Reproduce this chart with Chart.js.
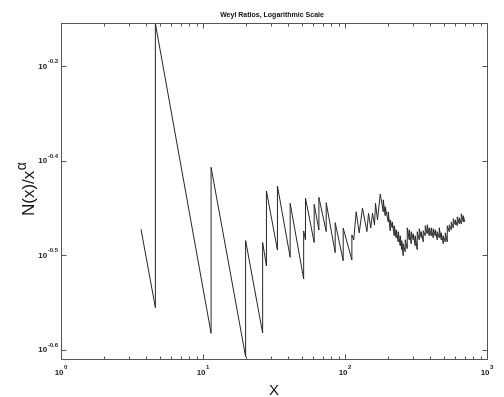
<!DOCTYPE html>
<html>
<head>
<meta charset="utf-8">
<script src="https://cdn.jsdelivr.net/npm/chart.js@4.4.1/dist/chart.umd.min.js"></script>
<style>
  html, body { margin: 0; padding: 0; background: #fff; }
</style>
</head>
<body>
<canvas id="weylChart" width="504" height="397"></canvas>
<script>
// values (x = eigenvalue position, y = N(x)/x^alpha)
const xValues = [3.66, 4.62, 4.62, 11.40, 11.40, 19.96, 19.96, 26.30, 26.30, 27.98, 27.98,
  33.44, 33.44, 41.10, 41.10, 51.16, 51.16, 52.68, 52.68, 60.67, 60.67, 65.49, 65.49,
  73.74, 73.74, 85.29, 85.29, 97.12, 97.12, 111.8, 111.8, 115.2, 119.9, 125.9, 132.8,
  142.7, 146.4, 151.8, 156.2, 161.4, 164.0, 169.4, 177.1,
  185.9, 185.9, 192.0, 192.0, 201.6, 201.6, 208.2, 208.2, 215.1, 215.1, 222.2, 222.2,
  229.5, 229.5, 237.1, 237.1, 244.9, 244.9, 250.9, 250.9, 257.1, 257.1, 265.6, 265.6,
  274.4, 274.4, 283.4, 283.4, 292.7, 292.7, 302.4, 302.4, 312.4, 312.4, 322.7, 322.7,
  333.3, 333.3, 344.4, 344.4, 355.7, 355.7, 367.4, 367.4, 379.6, 379.6, 392.1, 392.1,
  405.0, 405.0, 418.4, 418.4, 432.2, 432.2, 446.5, 446.5, 461.2, 461.2, 476.4, 476.4,
  492.1, 492.1, 508.3, 508.3, 525.1, 525.1, 542.4, 542.4, 560.3, 560.3, 578.8, 578.8,
  597.9, 597.9, 617.6, 617.6, 638.0, 638.0, 659.0, 659.0, 680.8, 680.8, 697.6];
const yValues = [0.3369, 0.2784, 0.5557, 0.2616, 0.3917, 0.2471, 0.3278, 0.2618, 0.3262, 0.3081, 0.3698,
  0.3203, 0.3743, 0.3147, 0.3589, 0.2985, 0.3355, 0.3283, 0.3635, 0.3262, 0.3580, 0.3363, 0.3641,
  0.3350, 0.3594, 0.3183, 0.3423, 0.3121, 0.3379, 0.3126, 0.3323, 0.3283, 0.3516, 0.3339, 0.3546,
  0.3350, 0.3502, 0.3379, 0.3502, 0.3404, 0.3589, 0.3446, 0.3671,
  0.3515, 0.3619, 0.3482, 0.3558, 0.3430, 0.3515, 0.3357, 0.3447, 0.3381, 0.3430, 0.3316, 0.3398,
  0.3300, 0.3365, 0.3268, 0.3349, 0.3237, 0.3316, 0.3206, 0.3276, 0.3159, 0.3253, 0.3190, 0.3284,
  0.3214, 0.3381, 0.3284, 0.3365, 0.3253, 0.3349, 0.3284, 0.3332, 0.3237, 0.3316, 0.3206, 0.3349,
  0.3284, 0.3373, 0.3300, 0.3349, 0.3268, 0.3357, 0.3316, 0.3398, 0.3332, 0.3406, 0.3316, 0.3381,
  0.3316, 0.3381, 0.3300, 0.3373, 0.3316, 0.3365, 0.3284, 0.3349, 0.3300, 0.3381, 0.3284, 0.3340,
  0.3253, 0.3316, 0.3268, 0.3340, 0.3268, 0.3398, 0.3349, 0.3406, 0.3365, 0.3430, 0.3381, 0.3456,
  0.3406, 0.3447, 0.3398, 0.3473, 0.3414, 0.3465, 0.3414, 0.3498, 0.3430, 0.3482, 0.3430];

// axis ticks
const xDecades = [1, 10, 100, 1000];
const xDecadeLabels = ['0', '1', '2', '3'];
const xMinorTicks = [2, 3, 4, 5, 6, 7, 8, 9, 20, 30, 40, 50, 60, 70, 80, 90,
  200, 300, 400, 500, 600, 700, 800, 900];
const yExponents = [-0.3, -0.4, -0.5, -0.6];
const yExponentLabels = ['-0.3', '-0.4', '-0.5', '-0.6'];
const yMin = 0.2457, yMax = 0.5565;

const FONT = "'Liberation Sans', Arial, sans-serif";

// matlab style box with inward ticks and 10^n labels
const matlabFrame = {
  id: 'matlabFrame',
  afterDatasetsDraw(chart) {
    const { ctx, chartArea: a, scales: { x, y } } = chart;
    const seg = (x1, y1, x2, y2) => {
      ctx.beginPath(); ctx.moveTo(x1, y1); ctx.lineTo(x2, y2); ctx.stroke();
    };
    ctx.save();
    ctx.strokeStyle = '#555';
    ctx.lineWidth = 1;
    const L = Math.round(a.left) + 0.5, R = Math.round(a.right) + 0.5;
    const T = Math.round(a.top) + 0.5, B = Math.round(a.bottom) + 0.5;
    ctx.strokeRect(L, T, R - L, B - T);

    // x ticks top and bottom
    xMinorTicks.forEach(v => {
      const px = Math.round(x.getPixelForValue(v)) + 0.5;
      seg(px, B, px, B - 3); seg(px, T, px, T + 3);
    });
    xDecades.forEach(v => {
      const px = Math.round(x.getPixelForValue(v)) + 0.5;
      seg(px, B, px, B - 5); seg(px, T, px, T + 5);
    });
    // y ticks left and right
    yExponents.forEach(e => {
      const py = Math.round(y.getPixelForValue(Math.pow(10, e))) + 0.5;
      seg(L, py, L + 5, py); seg(R, py, R - 5, py);
    });

    ctx.fillStyle = '#1a1a1a';
    ctx.textBaseline = 'alphabetic';
    const baseFont = 'bold 8px ' + FONT;
    const supFont = 'bold 6px ' + FONT;

    // y tick labels
    yExponents.forEach((e, i) => {
      const py = y.getPixelForValue(Math.pow(10, e));
      ctx.font = supFont;
      ctx.textAlign = 'right';
      const supRight = a.left - 3;
      ctx.fillText(yExponentLabels[i], supRight, py - 3);
      const supW = ctx.measureText(yExponentLabels[i]).width;
      ctx.font = baseFont;
      ctx.fillText('10', supRight - supW - 0.5, py + 2.5);
    });

    // x tick labels
    xDecades.forEach((v, i) => {
      const px = x.getPixelForValue(v);
      ctx.font = baseFont;
      const w10 = ctx.measureText('10').width;
      ctx.font = supFont;
      const wSup = ctx.measureText(xDecadeLabels[i]).width;
      const start = px - (w10 + wSup + 0.5) / 2;
      ctx.textAlign = 'left';
      ctx.font = baseFont;
      ctx.fillText('10', start, a.bottom + 15.5);
      ctx.font = supFont;
      ctx.fillText(xDecadeLabels[i], start + w10 + 0.5, a.bottom + 10);
    });

    // title
    ctx.textAlign = 'center';
    ctx.font = 'bold 7px ' + FONT;
    ctx.fillStyle = '#111';
    ctx.fillText('Weyl Ratios, Logarithmic Scale', (a.left + a.right) / 2 - 2, a.top - 6);

    // x axis title
    ctx.font = '15px ' + FONT;
    ctx.fillText('X', (a.left + a.right) / 2, a.bottom + 36);

    // y axis title, rotated, with superscript alpha
    ctx.translate(34, 216);
    ctx.rotate(-Math.PI / 2);
    ctx.textAlign = 'left';
    ctx.font = '17px ' + FONT;
    const main = 'N(x)/x';
    ctx.fillText(main, 0, 0);
    const mw = ctx.measureText(main).width;
    ctx.font = '14px ' + FONT;
    ctx.fillText('\u03B1', mw + 0.5, -8);
    ctx.restore();
  }
};

const points = xValues.map((v, i) => ({ x: v, y: yValues[i] }));

const ctx = document.getElementById('weylChart').getContext('2d');
const weylChart = new Chart(ctx, {
  type: 'line',
  data: {
    datasets: [{
      data: points,
      borderColor: '#262626',
      borderWidth: 1,
      pointRadius: 0,
      tension: 0,
      fill: false
    }]
  },
  options: {
    responsive: false,
    animation: false,
    events: [],
    layout: { padding: { left: 61, top: 23, right: 17, bottom: 38 } },
    plugins: {
      legend: { display: false },
      title: { display: false },
      tooltip: { enabled: false }
    },
    scales: {
      x: { type: 'logarithmic', min: 1, max: 1000, bounds: 'data', display: false },
      y: { type: 'logarithmic', min: yMin, max: yMax, bounds: 'data', display: false }
    }
  },
  plugins: [matlabFrame]
});
</script>
</body>
</html>
